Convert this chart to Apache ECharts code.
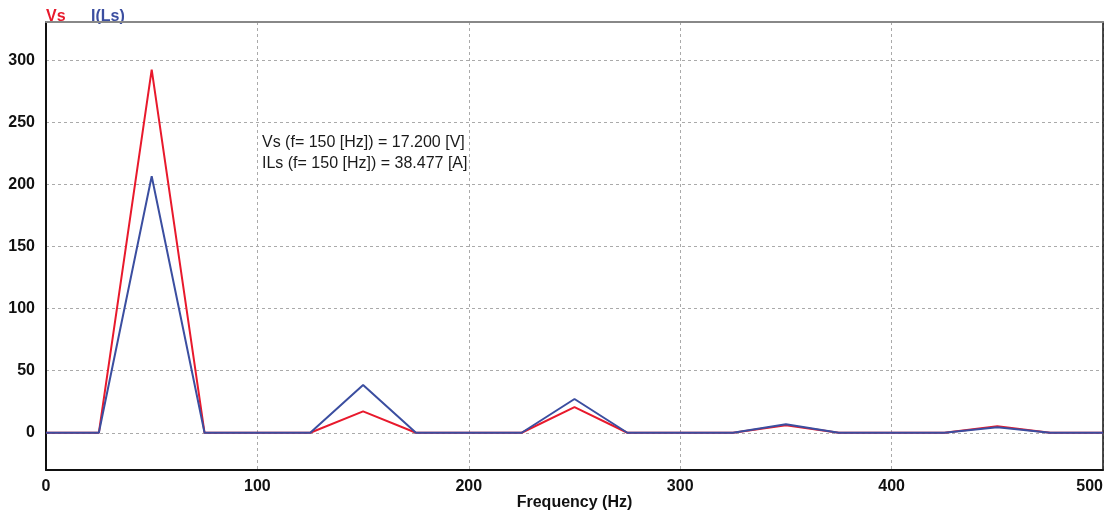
<!DOCTYPE html>
<html>
<head>
<meta charset="utf-8">
<script src="https://cdn.jsdelivr.net/npm/echarts@6/dist/echarts.min.js"></script>
<style>
  html, body { margin: 0; padding: 0; background: #fff; }
  #chart { width: 1108px; height: 513px; }
</style>
</head>
<body>
<div id="chart"></div>
<script>
// Harmonic spectrum: frequency bins (Hz)
const freq = [0, 25, 50, 75, 100, 125, 150, 175, 200, 225, 250, 275, 300, 325, 350, 375, 400, 425, 450, 475, 500];
// Source voltage Vs per bin
const vs   = [0, 0, 292.7, 0, 0, 0, 17.2, 0, 0, 0, 20.7, 0, 0, 0, 6.0, 0, 0, 0, 5.2, 0, 0];
// Inductor current I(Ls) per bin
const ils  = [0, 0, 206.7, 0, 0, 0, 38.477, 0, 0, 0, 27.2, 0, 0, 0, 6.8, 0, 0, 0, 4.5, 0, 0];
// Y tick labels
const yTicks = [0, 50, 100, 150, 200, 250, 300];

const RED = '#e8192c';
const BLUE = '#3b4ea0';
const BOLD_FONT = "'Liberation Sans Narrow', 'Arial Narrow', 'Liberation Sans', Arial, sans-serif";

const chart = echarts.init(document.getElementById('chart'), null, { renderer: 'canvas' });

const gridLine = { show: true, lineStyle: { color: '#aaaaaa', type: [3, 3], width: 1 } };
const labelFont = { fontFamily: BOLD_FONT, fontWeight: 'bold', fontSize: 16, color: '#111' };

chart.setOption({
  animation: false,
  backgroundColor: '#ffffff',
  grid: { left: 46, right: 5, top: 22, bottom: 43, containLabel: false, outerBoundsMode: 'none' },
  xAxis: [{
    type: 'value',
    min: 0, max: 500, interval: 100,
    name: 'Frequency (Hz)',
    nameLocation: 'middle',
    nameGap: 25,
    nameMoveOverlap: false,
    nameTextStyle: labelFont,
    axisLine: { show: true, onZero: false, lineStyle: { color: '#111', width: 2 } },
    axisTick: { show: false },
    axisLabel: Object.assign({ margin: 9, alignMaxLabel: 'right' }, labelFont),
    splitLine: gridLine
  }, {
    type: 'value',
    position: 'top',
    min: 0, max: 500, interval: 100,
    axisLine: { show: true, onZero: false, lineStyle: { color: '#888', width: 2 } },
    axisTick: { show: false },
    axisLabel: { show: false },
    splitLine: { show: false }
  }],
  yAxis: [{
    type: 'value',
    min: -30, max: 331,
    axisLine: { show: true, onZero: false, lineStyle: { color: '#111', width: 2 } },
    axisTick: { show: false, customValues: yTicks },
    axisLabel: Object.assign({ margin: 11, customValues: yTicks }, labelFont),
    splitLine: gridLine
  }, {
    type: 'value',
    position: 'right',
    min: -30, max: 331,
    axisLine: { show: true, onZero: false, lineStyle: { color: '#111', width: 1.5 } },
    axisTick: { show: false },
    axisLabel: { show: false },
    splitLine: { show: false }
  }],
  series: [{
    name: 'Vs',
    type: 'line',
    data: freq.map((f, i) => [f, vs[i]]),
    showSymbol: false,
    lineStyle: { color: RED, width: 2 },
    itemStyle: { color: RED }
  }, {
    name: 'I(Ls)',
    type: 'line',
    data: freq.map((f, i) => [f, ils[i]]),
    showSymbol: false,
    lineStyle: { color: BLUE, width: 2 },
    itemStyle: { color: BLUE }
  }],
  graphic: [
    { type: 'text', left: 46, top: 9, style: { text: 'Vs', fill: RED, font: "bold 16px " + BOLD_FONT } },
    { type: 'text', left: 91, top: 9, style: { text: 'I(Ls)', fill: BLUE, font: "bold 16px " + BOLD_FONT } },
    { type: 'text', left: 262, top: 132, style: {
        text: 'Vs (f= 150 [Hz]) = 17.200 [V]\nILs (f= 150 [Hz]) = 38.477 [A]',
        fill: '#1a1a1a', font: "16px 'Liberation Sans', Arial, sans-serif", lineHeight: 21 } }
  ]
});
</script>
</body>
</html>
